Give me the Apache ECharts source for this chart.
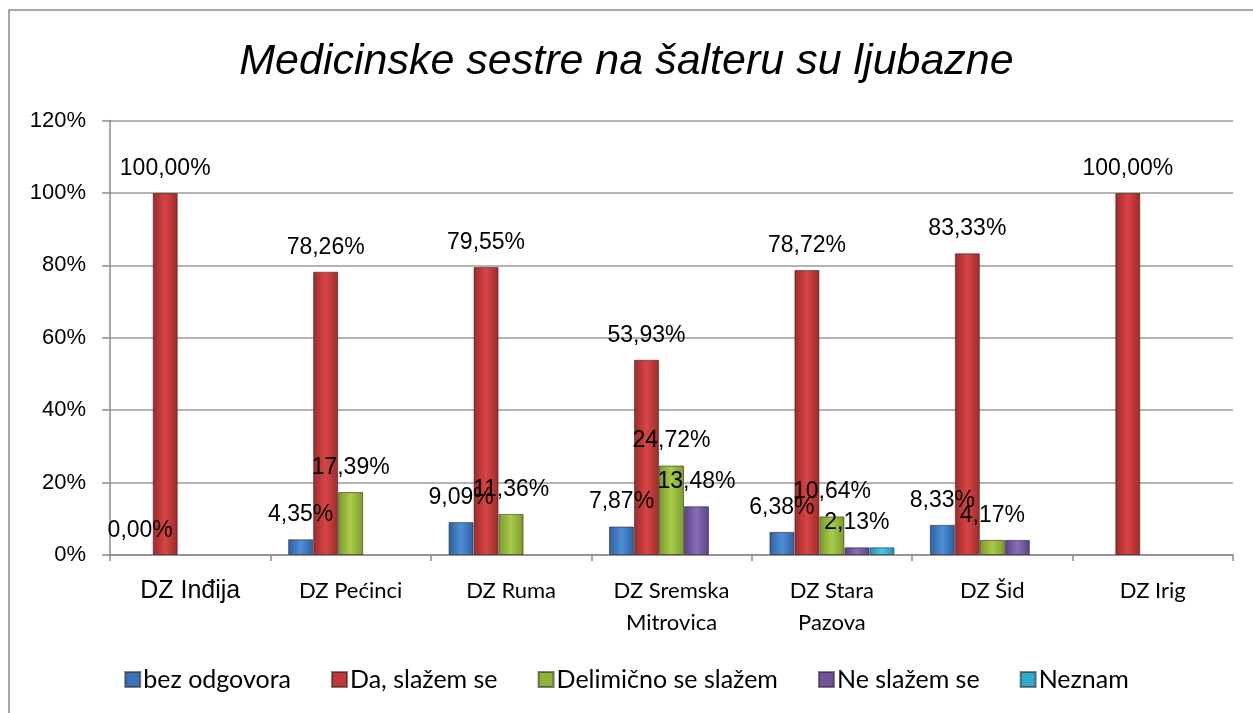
<!DOCTYPE html>
<html>
<head>
<meta charset="utf-8">
<script src="https://cdn.jsdelivr.net/npm/echarts@6/dist/echarts.min.js"></script>
<style>
  html, body { margin: 0; padding: 0; background: #fff; }
  #chart { width: 1253px; height: 713px; }
</style>
</head>
<body>
<div id="chart"></div>
<script>
var categories = ['DZ Inđija', 'DZ Pećinci', 'DZ Ruma', 'DZ Sremska\nMitrovica', 'DZ Stara\nPazova', 'DZ Šid', 'DZ Irig'];
var seriesNames = ['bez odgovora', 'Da, slažem se', 'Delimično se slažem', 'Ne slažem se', 'Neznam'];
var bezOdgovora = [0, 4.35, 9.09, 7.87, 6.38, 8.33, '-'];
var daSlazem = [100, 78.26, 79.55, 53.93, 78.72, 83.33, 100];
var delimicno = ['-', 17.39, 11.36, 24.72, 10.64, 4.17, '-'];
var neSlazem = ['-', '-', '-', 13.48, 2.13, 4.17, '-'];
var neznam = ['-', '-', '-', '-', 2.13, '-', '-'];
var yTicks = [0, 20, 40, 60, 80, 100, 120];

// labels that Excel did not show (series index -> category indexes)
var hiddenLabels = { 3: [5], 4: [0, 1, 2, 3, 4, 5, 6] };

var colors = [
  ['#2c5f9e', '#4f8fd8', '#2c5f9e'],
  ['#9e2a2a', '#d84545', '#9e2a2a'],
  ['#7a9a2c', '#a8cc48', '#7a9a2c'],
  ['#5a4282', '#8a6cb8', '#5a4282'],
  ['#2390ad', '#4cc8e8', '#2390ad']
];
var legendColors = ['#3b73b9', '#c0393b', '#8db33a', '#6f5597', '#31a9c9'];

function grad(c) {
  return new echarts.graphic.LinearGradient(0, 0, 1, 0, [
    { offset: 0, color: c[0] },
    { offset: 0.5, color: c[1] },
    { offset: 1, color: c[2] }
  ]);
}

function fmt(v) {
  return v.toFixed(2).replace('.', ',') + '%';
}

var allData = [bezOdgovora, daSlazem, delimicno, neSlazem, neznam];

var series = [];
for (var s = 0; s < allData.length; s++) {
  var hide = hiddenLabels[s] || [];
  var data = [];
  for (var i = 0; i < allData[s].length; i++) {
    var v = allData[s][i];
    if (v === '-') { data.push('-'); continue; }
    var item = { value: v };
    if (hide.indexOf(i) >= 0) item.label = { show: false };
    if (v === 0) item.itemStyle = { borderWidth: 0 };
    data.push(item);
  }
  series.push({
    name: seriesNames[s],
    type: 'bar',
    data: data,
    barWidth: 25,
    barGap: '0%',
    itemStyle: {
      color: grad(colors[s]),
      borderColor: 'rgba(40,30,30,0.55)',
      borderWidth: 1
    },
    label: {
      show: true,
      position: 'top',
      distance: 13,
      fontFamily: 'Liberation Sans, Arial, sans-serif',
      fontSize: 23,
      color: '#000',
      formatter: function (p) { return fmt(p.value); }
    },
    z: 2
  });
}

var chart = echarts.init(document.getElementById('chart'));

var options = {
  animation: false,
  backgroundColor: '#fff',
  color: legendColors,
  title: {
    text: 'Medicinske sestre na šalteru su ljubazne',
    left: 'center',
    top: 36,
    textStyle: {
      fontFamily: 'Liberation Sans, Arial, sans-serif',
      fontStyle: 'italic',
      fontWeight: 'normal',
      fontSize: 43,
      color: '#000'
    }
  },
  graphic: [
    {
      type: 'rect',
      shape: { x: 9, y: 10, width: 1300, height: 760 },
      style: { fill: 'none', stroke: '#8a8a8a', lineWidth: 1.5 },
      silent: true,
      z: -1
    },
    {
      type: 'text',
      left: 0,
      top: -17,
      style: {
        text: 'Grafikon 8.',
        font: 'bold 22px Liberation Serif',
        fill: '#000'
      }
    }
  ],
  legend: {
    data: seriesNames.map(function (n, k) {
      return { name: n, itemStyle: { color: legendColors[k] } };
    }),
    left: 'center',
    top: 662,
    icon: 'rect',
    itemWidth: 15,
    itemHeight: 15,
    itemGap: 40,
    textStyle: {
      fontFamily: 'Lato, Noto Sans, sans-serif',
      fontSize: 25,
      color: '#000',
      padding: [0, 0, 0, -2]
    }
  },
  grid: {
    left: 110,
    right: 20,
    top: 120.6,
    bottom: 158,
    containLabel: false
  },
  xAxis: [{
    type: 'category',
    data: categories,
    axisLine: { lineStyle: { color: '#8a8a8a', width: 1.5 } },
    axisTick: { show: true, length: 6, lineStyle: { color: '#8a8a8a', width: 1.5 } },
    axisLabel: {
      margin: 20,
      interval: 0,
      fontFamily: 'Lato, Noto Sans, sans-serif',
      fontSize: 22,
      lineHeight: 32,
      color: '#000',
      formatter: function (v, idx) {
        if (idx === 0) return '{big|' + v + '}';
        return v;
      },
      rich: {
        big: {
          fontFamily: 'Liberation Sans, Arial, sans-serif',
          fontSize: 25,
          color: '#000'
        }
      }
    }
  }],
  yAxis: [{
    type: 'value',
    min: yTicks[0],
    max: yTicks[yTicks.length - 1],
    interval: 20,
    axisLine: { show: true, lineStyle: { color: '#8a8a8a', width: 1.5 } },
    axisTick: { show: true, length: 8, lineStyle: { color: '#8a8a8a', width: 1.5 } },
    splitLine: { lineStyle: { color: '#9a9a9a', width: 1.5 } },
    axisLabel: {
      margin: 24,
      fontFamily: 'Liberation Sans, Arial, sans-serif',
      fontSize: 22,
      color: '#000',
      formatter: '{value}%'
    }
  }],
  series: series
};

chart.setOption(options);
</script>
</body>
</html>
